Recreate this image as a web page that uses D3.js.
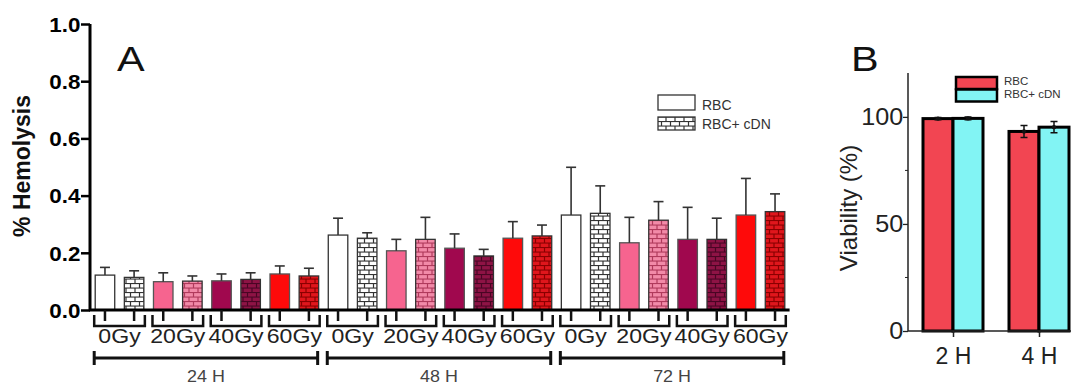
<!DOCTYPE html>
<html>
<head>
<meta charset="utf-8">
<script src="https://cdn.jsdelivr.net/npm/d3@7"></script>
<style>
body { margin: 0; background: #fff; }
svg { display: block; font-family: "Liberation Sans", Arial, sans-serif; }
</style>
</head>
<body>
<svg width="1071" height="385"></svg>
<script>
// panel A data
var times = ["24 H", "48 H", "72 H"];
var doses = ["0Gy", "20Gy", "40Gy", "60Gy"];
var rbcMean = [[0.122, 0.099, 0.102, 0.126], [0.262, 0.207, 0.216, 0.251], [0.332, 0.235, 0.247, 0.332]];
var rbcErr  = [[0.027, 0.031, 0.024, 0.028], [0.059, 0.040, 0.050, 0.058], [0.167, 0.089, 0.112, 0.128]];
var cdnMean = [[0.114, 0.101, 0.107, 0.119], [0.251, 0.247, 0.189, 0.259], [0.338, 0.314, 0.247, 0.344]];
var cdnErr  = [[0.023, 0.018, 0.023, 0.027], [0.019, 0.077, 0.023, 0.038], [0.096, 0.065, 0.074, 0.062]];
var yTicksA = [0, 0.2, 0.4, 0.6, 0.8, 1.0];

// panel B data
var hoursB = ["2 H", "4 H"];
var seriesB = ["RBC", "RBC+ cDN"];
var viabRBC = [99.2, 93.2];
var viabRBCErr = [0.5, 2.8];
var viabCDN = [99.3, 95.2];
var viabCDNErr = [0.6, 2.6];
var yTicksB = [0, 50, 100];

var svg = d3.select("svg");
var defs = svg.append("defs");

var doseColor = ["#ffffff", "#f6648f", "#a0084e", "#fe0a0a"];
var brick = ["#ffffff", "#f28aa8", "#8e1345", "#e0161c"];
var mortar = ["#333333", "#b03a5c", "#4a0524", "#8a0000"];

doses.forEach(function(d, i) {
  var p = defs.append("pattern").attr("id", "brick" + i)
    .attr("patternUnits", "userSpaceOnUse").attr("width", 9).attr("height", 9);
  p.append("rect").attr("width", 9).attr("height", 9).attr("fill", mortar[i]);
  p.append("rect").attr("x", 0.6).attr("y", 0.6).attr("width", 7.8).attr("height", 3.4).attr("fill", brick[i]);
  p.append("rect").attr("x", -3.9).attr("y", 5.1).attr("width", 7.8).attr("height", 3.4).attr("fill", brick[i]);
  p.append("rect").attr("x", 5.1).attr("y", 5.1).attr("width", 7.8).attr("height", 3.4).attr("fill", brick[i]);
});

function stext(g, x, y, str, sx) {
  return g.append("text")
    .attr("transform", "translate(" + x + "," + y + ") scale(" + sx + ",1)")
    .text(str);
}

// ---------- panel A ----------
var bars = [];
times.forEach(function(t, ti) {
  doses.forEach(function(d, di) {
    bars.push({t: ti, d: di, s: 0, v: rbcMean[ti][di], e: rbcErr[ti][di]});
    bars.push({t: ti, d: di, s: 1, v: cdnMean[ti][di], e: cdnErr[ti][di]});
  });
});
bars.forEach(function(b, i) { b.i = i; });

var x = d3.scaleBand().domain(d3.range(bars.length)).range([90.4, 789.6])
  .paddingInner(0.33).paddingOuter(0.165);
var y = d3.scaleLinear().domain([0, 1]).range([310, 24]);

var gA = svg.append("g");

gA.selectAll("rect.bar").data(bars).enter().append("rect")
  .attr("class", "bar")
  .attr("x", function(b) { return x(b.i); })
  .attr("y", function(b) { return y(b.v); })
  .attr("width", x.bandwidth())
  .attr("height", function(b) { return y(0) - y(b.v); })
  .attr("fill", function(b) { return b.s ? "url(#brick" + b.d + ")" : doseColor[b.d]; })
  .attr("stroke", function(b) { return b.d == 0 || b.s ? "#333" : "#555"; })
  .attr("stroke-width", 1.3);

var err = gA.selectAll("g.err").data(bars).enter().append("g").attr("class", "err")
  .attr("stroke", "#333").attr("stroke-width", 1.6);
err.append("line")
  .attr("x1", function(b) { return x(b.i) + x.bandwidth() / 2; })
  .attr("x2", function(b) { return x(b.i) + x.bandwidth() / 2; })
  .attr("y1", function(b) { return y(b.v); })
  .attr("y2", function(b) { return y(b.v + b.e); });
err.append("line")
  .attr("x1", function(b) { return x(b.i) + x.bandwidth() / 2 - 5; })
  .attr("x2", function(b) { return x(b.i) + x.bandwidth() / 2 + 5; })
  .attr("y1", function(b) { return y(b.v + b.e); })
  .attr("y2", function(b) { return y(b.v + b.e); });

// y axis
var yAxis = gA.append("g").attr("transform", "translate(90,0)")
  .call(d3.axisLeft(y).tickValues(yTicksA).tickFormat(d3.format(".1f")).tickSize(9).tickPadding(0));
yAxis.select(".domain").attr("stroke", "#000").attr("stroke-width", 3).attr("d", "M0," + y(1) + "V" + y(0));
yAxis.selectAll(".tick line").attr("stroke", "#000").attr("stroke-width", 2.5);
yAxis.selectAll(".tick text")
  .attr("x", -8.5).attr("dy", "0.36em")
  .attr("transform", "scale(1.12,1)")
  .attr("font-size", 20).attr("font-weight", "bold").attr("fill", "#000")
  .attr("font-family", "Liberation Sans, Arial, sans-serif");

// x baseline
gA.append("line").attr("x1", 89).attr("x2", x.range()[1]).attr("y1", y(0)).attr("y2", y(0))
  .attr("stroke", "#000").attr("stroke-width", 3);

// ticks at bar centres
gA.selectAll("line.btick").data(bars).enter().append("line").attr("class", "btick")
  .attr("x1", function(b) { return x(b.i) + x.bandwidth() / 2; })
  .attr("x2", function(b) { return x(b.i) + x.bandwidth() / 2; })
  .attr("y1", y(0)).attr("y2", y(0) + 11)
  .attr("stroke", "#111").attr("stroke-width", 2.5);

// pair brackets + dose labels
var pairs = bars.filter(function(b) { return b.s == 0; });
var pb = gA.selectAll("g.pair").data(pairs).enter().append("g").attr("class", "pair");
pb.append("path")
  .attr("d", function(b) {
    var l = x(b.i) - 1, r = x(b.i + 1) + x.bandwidth() + 1;
    return "M" + l + "," + (y(0) + 5) + "V" + (y(0) + 16) + "H" + r + "V" + (y(0) + 5);
  })
  .attr("fill", "none").attr("stroke", "#111").attr("stroke-width", 2.5);
pb.each(function(b) {
  var cx = (x(b.i) + x(b.i + 1) + x.bandwidth()) / 2;
  stext(d3.select(this), cx, 343, doses[b.d], 1.1)
    .attr("text-anchor", "middle").attr("font-size", 21).attr("fill", "#222");
});

// time brackets
times.forEach(function(t, ti) {
  var first = ti * 8, last = ti * 8 + 7;
  var l = x(first) - 1, r = x(last) + x.bandwidth() - 1;
  gA.append("path")
    .attr("d", "M" + l + ",351V365M" + l + ",358H" + r + "M" + r + ",351V365")
    .attr("fill", "none").attr("stroke", "#111").attr("stroke-width", 3);
  stext(gA, (l + r) / 2, 382, t, 1.12)
    .attr("text-anchor", "middle").attr("font-size", 16).attr("fill", "#444");
});

// y label A
gA.append("text").attr("transform", "translate(30,166) rotate(-90)")
  .attr("text-anchor", "middle").attr("font-size", 23).attr("font-weight", "bold")
  .attr("fill", "#111").text("% Hemolysis");

stext(gA, 117, 71, "A", 1.15).attr("font-size", 36).attr("fill", "#111");

// legend A
var legA = gA.append("g");
legA.append("rect").attr("x", 658).attr("y", 95).attr("width", 37).attr("height", 15)
  .attr("fill", "#fff").attr("stroke", "#333").attr("stroke-width", 1.3);
legA.append("rect").attr("x", 658).attr("y", 117).attr("width", 37).attr("height", 13)
  .attr("fill", "url(#brick0)").attr("stroke", "#333").attr("stroke-width", 1.3);
legA.append("text").attr("x", 702).attr("y", 110).attr("font-size", 14).attr("fill", "#333").text(seriesB[0]);
legA.append("text").attr("x", 702).attr("y", 129).attr("font-size", 14).attr("fill", "#333").text(seriesB[1]);

// ---------- panel B ----------
var gB = svg.append("g");
var yB = d3.scaleLinear().domain([0, 120.5]).range([331, 73]);
var xB = d3.scalePoint().domain(hoursB).range([953, 1039]);
var xs = d3.scaleBand().domain(seriesB).range([-30, 30]);
var colB = ["#f24552", "#82f4f4"];
var dataB = [];
hoursB.forEach(function(h, hi) {
  dataB.push({h: h, s: 0, v: viabRBC[hi], e: viabRBCErr[hi]});
  dataB.push({h: h, s: 1, v: viabCDN[hi], e: viabCDNErr[hi]});
});

gB.selectAll("rect.bb").data(dataB).enter().append("rect").attr("class", "bb")
  .attr("x", function(d) { return xB(d.h) + xs(seriesB[d.s]); })
  .attr("y", function(d) { return yB(d.v); })
  .attr("width", xs.bandwidth())
  .attr("height", function(d) { return yB(0) - yB(d.v); })
  .attr("fill", function(d) { return colB[d.s]; })
  .attr("stroke", "#000").attr("stroke-width", 3);

var eb = gB.selectAll("g.eb").data(dataB).enter().append("g").attr("class", "eb")
  .attr("stroke", "#111").attr("stroke-width", 1.5);
eb.append("path").attr("d", function(d) {
  var cx = xB(d.h) + xs(seriesB[d.s]) + xs.bandwidth() / 2;
  var t = yB(d.v + d.e), b = yB(d.v - d.e);
  return "M" + (cx - 3.5) + "," + t + "H" + (cx + 3.5) + "M" + cx + "," + t + "V" + b +
    "M" + (cx - 3.5) + "," + b + "H" + (cx + 3.5);
}).attr("fill", "none");
eb.append("circle")
  .attr("cx", function(d) { return xB(d.h) + xs(seriesB[d.s]) + xs.bandwidth() / 2; })
  .attr("cy", function(d) { return yB(d.v); })
  .attr("r", 2.2).attr("fill", "#111").attr("stroke", "none");

var yAxB = gB.append("g").attr("transform", "translate(908,0)")
  .call(d3.axisLeft(yB).tickValues(yTicksB).tickSize(5).tickPadding(0));
yAxB.select(".domain").attr("stroke", "#222").attr("stroke-width", 1.5)
  .attr("d", "M0," + yB(120.5) + "V" + yB(0));
yAxB.selectAll(".tick line").attr("stroke", "#222").attr("stroke-width", 1.3);
yAxB.selectAll(".tick text")
  .attr("x", -4.5).attr("transform", "scale(1.05,1)")
  .attr("font-size", 24).attr("fill", "#222")
  .attr("font-family", "Liberation Sans, Arial, sans-serif");
gB.selectAll("line.minor").data([25, 75]).enter().append("line").attr("class", "minor")
  .attr("x1", 905).attr("x2", 908).attr("y1", function(d) { return yB(d); }).attr("y2", function(d) { return yB(d); })
  .attr("stroke", "#222").attr("stroke-width", 1);

var xAxB = gB.append("g").attr("transform", "translate(0," + yB(0) + ")")
  .call(d3.axisBottom(xB).tickSize(6).tickPadding(5));
xAxB.select(".domain").attr("stroke", "#222").attr("stroke-width", 1.5).attr("d", "M908,0H1071");
xAxB.selectAll(".tick line").attr("stroke", "#222").attr("stroke-width", 1.5);
xAxB.selectAll(".tick text").attr("font-size", 23).attr("fill", "#222").attr("dy", "0.95em")
  .attr("font-family", "Liberation Sans, Arial, sans-serif");

gB.append("text").attr("transform", "translate(857,208) rotate(-90)")
  .attr("text-anchor", "middle").attr("font-size", 24).attr("fill", "#222").text("Viability (%)");

stext(gB, 851, 71, "B", 1.15).attr("font-size", 36).attr("fill", "#111");

// legend B
var legB = gB.append("g");
seriesB.forEach(function(s, i) {
  legB.append("rect").attr("x", 956).attr("y", 77 + i * 12.5).attr("width", 41).attr("height", 12)
    .attr("fill", colB[i]).attr("stroke", "#000").attr("stroke-width", 2.5);
  legB.append("text").attr("x", 1004).attr("y", 85 + i * 13).attr("font-size", 11.5).attr("fill", "#333").text(s);
});
</script>
</body>
</html>
